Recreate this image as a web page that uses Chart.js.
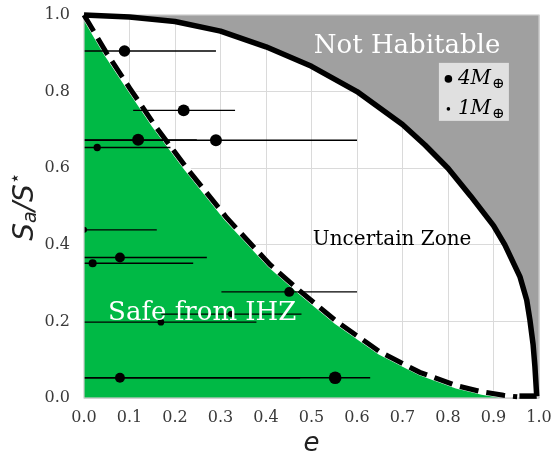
<!DOCTYPE html>
<html>
<head>
<meta charset="utf-8">
<script src="https://cdn.jsdelivr.net/npm/chart.js@4.4.1/dist/chart.umd.min.js"></script>
<style>
  html, body { margin: 0; padding: 0; background: #fff; }
  #wrap { width: 555px; height: 454px; }
</style>
</head>
<body>
<div id="wrap"><canvas id="chart" width="555" height="454"></canvas></div>
<script>
// solid contour: edge of the "not habitable" region
const edgeE = [0, 0.1, 0.2, 0.3, 0.4, 0.5, 0.6, 0.7, 0.75, 0.8, 0.85, 0.9, 0.925, 0.958, 0.973, 0.98, 0.987, 0.991, 0.995];
const edgeS = [1.0, 0.995, 0.983, 0.958, 0.917, 0.866, 0.8, 0.714, 0.66, 0.6, 0.527, 0.45, 0.4, 0.317, 0.256, 0.204, 0.14, 0.082, 0.005];
// little closing piece of the contour along the bottom
const edgeTailE = [0.995, 0.957];
const edgeTailS = [0.005, 0.005];

// dashed curve: limit of the region safe from IHZ
const safeE = [0, 0.05, 0.1, 0.155, 0.226, 0.314, 0.409, 0.475, 0.555, 0.651, 0.738, 0.819, 0.875, 0.922, 0.952];
const safeS = [1.0, 0.90, 0.81, 0.713, 0.6, 0.47, 0.348, 0.279, 0.2, 0.12, 0.067, 0.032, 0.016, 0.007, 0.003];

// planets: eccentricity, S_a/S*, mass (earth masses), eccentricity range
const planetE    = [0.089, 0.219, 0.119, 0.29, 0.029, 0.0, 0.079, 0.019, 0.169, 0.323, 0.079, 0.552, 0.451];
const planetS    = [0.906, 0.751, 0.674, 0.673, 0.654, 0.439, 0.367, 0.352, 0.198, 0.219, 0.053, 0.053, 0.277];
const planetMass = [3.2, 3.5, 3.5, 3.5, 1.3, 0.9, 2.4, 1.6, 1.1, 0.9, 2.4, 3.9, 2.4];
const errLo      = [0, 0.108, 0, 0, 0, 0, 0, 0, 0, 0.17, 0, 0, 0.302];
const errHi      = [0.29, 0.332, 0.248, 0.6, 0.19, 0.16, 0.27, 0.24, 0.379, 0.478, 0.475, 0.629, 0.6];

const xTicks = [0, 0.1, 0.2, 0.3, 0.4, 0.5, 0.6, 0.7, 0.8, 0.9, 1.0];
const yTicks = [0, 0.2, 0.4, 0.6, 0.8, 1.0];

const legendMass = [4, 1];
const legendLabel = ['4M', '1M'];

const pts = (xs, ys) => xs.map((v, i) => ({ x: v, y: ys[i] }));
const dotRadius = m => 3.2 * Math.sqrt(m);

const serif = '"DejaVu Serif", "Liberation Serif", serif';
const sans = '"DejaVu Sans", "Liberation Sans", sans-serif';

const errorBars = planetE.map((e, i) => ({
  type: 'line',
  data: [{ x: errLo[i], y: planetS[i] }, { x: errHi[i], y: planetS[i] }],
  borderColor: '#000',
  borderWidth: 1.4,
  pointRadius: 0,
  fill: false,
  order: 5
}));

const datasets = [
  {
    // grey "not habitable" area
    type: 'line',
    data: pts(edgeE.concat([1.0]), edgeS.concat([0])),
    borderWidth: 0,
    pointRadius: 0,
    fill: 'end',
    backgroundColor: '#a0a0a0',
    order: 10
  },
  {
    // green "safe" area, white edge under the dashes
    type: 'line',
    data: pts(safeE, safeS),
    borderColor: '#ffffff',
    borderWidth: 6,
    pointRadius: 0,
    fill: 'origin',
    backgroundColor: '#00b945',
    order: 9
  },
  ...errorBars,
  {
    type: 'scatter',
    data: pts(planetE, planetS),
    pointRadius: planetMass.map(dotRadius),
    pointHoverRadius: planetMass.map(dotRadius),
    backgroundColor: '#000',
    borderWidth: 0,
    clip: 0,
    order: 4,
    frameAfter: true
  },
  {
    type: 'line',
    data: pts(safeE, safeS),
    borderColor: '#000',
    borderWidth: 5,
    borderDash: [19, 8],
    borderCapStyle: 'butt',
    pointRadius: 0,
    fill: false,
    clip: false,
    order: 3
  },
  {
    type: 'line',
    data: pts(edgeE, edgeS),
    borderColor: '#000',
    borderWidth: 5.5,
    borderJoinStyle: 'round',
    pointRadius: 0,
    fill: false,
    clip: false,
    order: 2
  },
  {
    type: 'line',
    data: pts(edgeTailE, edgeTailS),
    borderColor: '#000',
    borderWidth: 5.5,
    pointRadius: 0,
    fill: false,
    clip: false,
    order: 2
  }
];

const overlay = {
  id: 'overlay',
  afterDatasetDraw(chart, args) {
    if (!chart.data.datasets[args.index].frameAfter) return;
    const { ctx, chartArea: a } = chart;
    ctx.save();
    ctx.strokeStyle = '#cccccc';
    ctx.lineWidth = 1.2;
    ctx.strokeRect(a.left, a.top, a.right - a.left, a.bottom - a.top);
    ctx.restore();
  },
  afterDatasetsDraw(chart) {
    const { ctx, chartArea: a, scales: { x, y } } = chart;
    ctx.save();
    ctx.textBaseline = 'alphabetic';

    // region labels
    ctx.fillStyle = '#fff';
    ctx.font = '26px ' + serif;
    ctx.textAlign = 'center';
    ctx.fillText('Not Habitable', x.getPixelForValue(0.71), y.getPixelForValue(0.901));
    ctx.textAlign = 'left';
    ctx.fillText('Safe from IHZ', x.getPixelForValue(0.053), y.getPixelForValue(0.204));
    ctx.fillStyle = '#000';
    ctx.font = '20px ' + serif;
    ctx.fillText('Uncertain Zone', x.getPixelForValue(0.503), y.getPixelForValue(0.4));

    // legend box
    const bx = x.getPixelForValue(0.78), by = y.getPixelForValue(0.875);
    ctx.fillStyle = '#e0e0e0';
    ctx.fillRect(bx, by, 70, 58);
    legendMass.forEach((m, i) => {
      const cy = by + 16 + i * 30;
      ctx.fillStyle = '#000';
      ctx.beginPath();
      ctx.arc(bx + 9.5, cy, m === 4 ? 3.8 : 1.8, 0, Math.PI * 2);
      ctx.fill();
      ctx.font = 'italic 20px ' + serif;
      ctx.textAlign = 'left';
      ctx.fillText(legendLabel[i], bx + 19, cy + 5);
      const w = ctx.measureText(legendLabel[i]).width;
      ctx.font = '15px ' + serif;
      ctx.fillText('\u2295', bx + 19 + w + 1, cy + 9);
    });

    // axis titles
    ctx.fillStyle = '#222';
    ctx.font = 'italic 26px ' + sans;
    ctx.textAlign = 'center';
    ctx.fillText('e', (a.left + a.right) / 2, 451);

    ctx.translate(33, (a.top + a.bottom) / 2);
    ctx.rotate(-Math.PI / 2);
    const big = 'italic 28px ' + sans, small = 'italic 19px ' + sans, star = '19px ' + sans;
    const parts = [
      { t: 'S', f: big, dy: 0 },
      { t: 'a', f: small, dy: 3 },
      { t: '/', f: big, dy: 0 },
      { t: 'S', f: big, dy: 0 },
      { t: '\u22c6', f: star, dy: -12 }
    ];
    let total = 0;
    parts.forEach(p => { ctx.font = p.f; p.w = ctx.measureText(p.t).width; total += p.w; });
    let cx = -total / 2;
    ctx.textAlign = 'left';
    parts.forEach(p => { ctx.font = p.f; ctx.fillText(p.t, cx, p.dy); cx += p.w; });
    ctx.restore();
  }
};

new Chart(document.getElementById('chart'), {
  type: 'line',
  data: { datasets },
  options: {
    responsive: false,
    animation: false,
    devicePixelRatio: 1,
    layout: { padding: { top: 15, right: 16, left: 0, bottom: 0 } },
    plugins: { legend: { display: false }, tooltip: { enabled: false } },
    scales: {
      x: {
        type: 'linear',
        min: 0,
        max: 1,
        afterBuildTicks: s => { s.ticks = xTicks.map(v => ({ value: v })); },
        afterFit: s => { s.height = 56; s.paddingLeft = 0; s.paddingRight = 0; },
        ticks: {
          callback: v => v.toFixed(1),
          font: { family: serif, size: 16 },
          color: '#3a3a3a',
          padding: 10,
          maxRotation: 0
        },
        grid: { color: '#dadada', lineWidth: 1, drawTicks: false },
        border: { display: false }
      },
      y: {
        type: 'linear',
        min: 0,
        max: 1,
        afterBuildTicks: s => { s.ticks = yTicks.map(v => ({ value: v })); },
        afterFit: s => { s.width = 84; s.paddingTop = 0; s.paddingBottom = 0; },
        ticks: {
          callback: v => v.toFixed(1),
          font: { family: serif, size: 16 },
          color: '#3a3a3a',
          padding: 14
        },
        grid: { color: '#dadada', lineWidth: 1, drawTicks: false },
        border: { display: false }
      }
    }
  },
  plugins: [overlay]
});
</script>
</body>
</html>
